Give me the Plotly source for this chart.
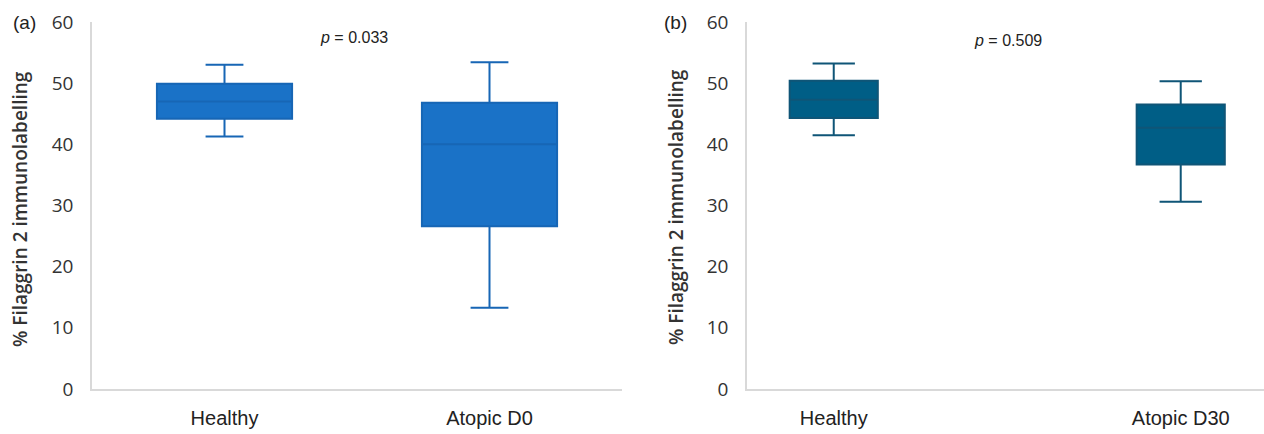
import plotly.graph_objects as go

categories_a = ["Healthy", "Atopic D0"]
lower_a = [41.3, 13.3]
q1_a = [44.2, 26.6]
median_a = [47.0, 40.0]
q3_a = [49.9, 46.8]
upper_a = [53.0, 53.4]

categories_b = ["Healthy", "Atopic D30"]
lower_b = [41.5, 30.6]
q1_b = [44.3, 36.7]
median_b = [47.3, 42.7]
q3_b = [50.4, 46.5]
upper_b = [53.2, 50.3]

y_ticks = [0, 10, 20, 30, 40, 50, 60]
p_values = ["0.033", "0.509"]
y_title = "% Filaggrin 2 immunolabelling"

W, H = 1264, 434
fig = go.Figure()

fig.add_trace(go.Box(
    x=categories_a, q1=q1_a, median=median_a, q3=q3_a,
    lowerfence=lower_a, upperfence=upper_a,
    fillcolor="#1A72C7", line=dict(color="#1766B5", width=2),
    width=0.51, whiskerwidth=0.28, boxpoints=False, hoverinfo="skip",
    xaxis="x", yaxis="y", showlegend=False,
))
fig.add_trace(go.Box(
    x=categories_b, q1=q1_b, median=median_b, q3=q3_b,
    lowerfence=lower_b, upperfence=upper_b,
    fillcolor="#005E86", line=dict(color="#0F5577", width=2),
    width=0.254, whiskerwidth=0.48, boxpoints=False, hoverinfo="skip",
    xaxis="x2", yaxis="y2", showlegend=False,
))

ydom = [1 - 389 / H, 1 - 22 / H]
xaxis_common = dict(
    type="category", showgrid=False, zeroline=False, showline=True, automargin=False,
    linecolor="#D9D9D9", linewidth=1.5, ticks="", ticklabelstandoff=10,
    tickfont=dict(family="Liberation Sans, Arial", size=20, color="#222222"),
)
yaxis_common = dict(
    range=[0, 60], tickvals=y_ticks, showgrid=False, zeroline=False, automargin=False,
    showline=True, linecolor="#D9D9D9", linewidth=1.5, ticks="",
    ticklabelstandoff=13,
    tickfont=dict(family="Open Sans", size=19, color="#333333"),
)

fig.update_layout(
    width=W, height=H, margin=dict(l=0, r=0, t=0, b=0, pad=0),
    paper_bgcolor="white", plot_bgcolor="white",
    xaxis=dict(domain=[92 / W, 622 / W], range=[-0.5, 1.5], anchor="y", **xaxis_common),
    yaxis=dict(domain=ydom, anchor="x", **yaxis_common),
    xaxis2=dict(domain=[747 / W, 1.0], range=[-0.25, 1.24], anchor="y2", **xaxis_common),
    yaxis2=dict(domain=ydom, anchor="x2", **yaxis_common),
)

ann_font = dict(family="Liberation Sans, Arial", size=16, color="#222222")
annotations = [
    dict(text=f"<i>p</i> = {p_values[0]}", x=354 / W, y=1 - 38 / H, xref="paper", yref="paper",
         showarrow=False, font=ann_font, xanchor="center", yanchor="middle"),
    dict(text=f"<i>p</i> = {p_values[1]}", x=1008 / W, y=1 - 40 / H, xref="paper", yref="paper",
         showarrow=False, font=ann_font, xanchor="center", yanchor="middle"),
    dict(text="(a)", x=24 / W, y=1 - 22 / H, xref="paper", yref="paper", showarrow=False,
         font=dict(family="Liberation Sans, Arial", size=19, color="#222222"),
         xanchor="center", yanchor="middle"),
    dict(text="(b)", x=675 / W, y=1 - 22 / H, xref="paper", yref="paper", showarrow=False,
         font=dict(family="Liberation Sans, Arial", size=19, color="#222222"),
         xanchor="center", yanchor="middle"),
    dict(text=y_title, x=20 / W, y=1 - 209 / H, xref="paper", yref="paper", showarrow=False,
         textangle=-90, font=dict(family="Open Sans", size=19, color="#333333", weight=600),
         xanchor="center", yanchor="middle"),
    dict(text=y_title, x=676 / W, y=1 - 207 / H, xref="paper", yref="paper", showarrow=False,
         textangle=-90, font=dict(family="Open Sans", size=19, color="#333333", weight=600),
         xanchor="center", yanchor="middle"),
]
fig.update_layout(annotations=annotations)

fig.write_html("out.html", config={"displayModeBar": False},
               post_script="document.body.style.margin='0';")
